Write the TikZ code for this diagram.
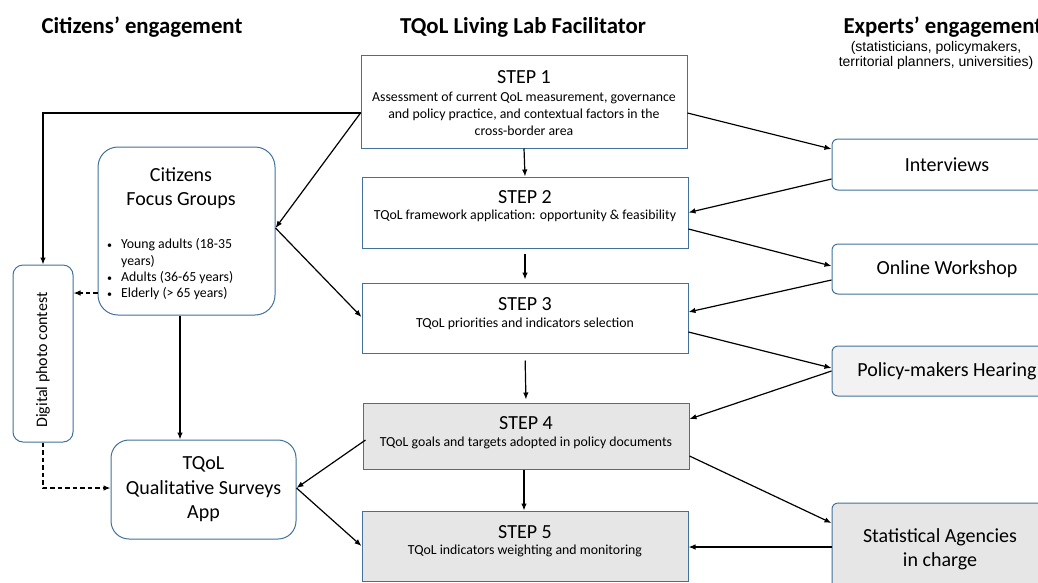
\documentclass[tikz,border=0pt]{standalone}
\usepackage{fontspec}
\setmainfont{Carlito}
\newfontfamily\subfont{Liberation Sans}
\usetikzlibrary{arrows.meta}
\definecolor{boxblue}{RGB}{65,113,156}
\definecolor{grayA}{RGB}{231,230,230}
\definecolor{grayB}{RGB}{242,242,242}
\newcommand{\smbul}{{\fontsize{10}{10}\selectfont •}}
\begin{document}
\begin{tikzpicture}[x=1pt,y=-1pt,
  box/.style={draw=boxblue, line width=1pt, inner sep=0pt, fill=white},
  rbox/.style={box, rounded corners=6pt},
  arr/.style={-{Latex[length=7pt,width=5.5pt]}, line width=1.2pt, black},
  darr/.style={arr, dash pattern=on 4.5pt off 3pt},
  head/.style={font=\bfseries\fontsize{22.8}{27}\selectfont, anchor=base},
  steptitle/.style={font=\fontsize{20}{24}\selectfont},
  stepdesc/.style={font=\fontsize{13.8}{17}\selectfont, align=center},
  big/.style={font=\fontsize{20}{24.5}\selectfont, align=center},
]
\useasboundingbox (0,0) rectangle (1038,582);
\clip (0,0) rectangle (1038,582);

% headers
\node[head] (hc) at (142,33) {Citizens’ engagement};
\node[head] (hf) at (523,33) {TQoL Living Lab Facilitator};
\node[head, anchor=base west] (he) at (840,33) {Experts’ engagement};
\node[font=\subfont\fontsize{14}{15.5}\selectfont, align=center, anchor=north, inner sep=0pt] (hs) at (936,41)
  {(statisticians, policymakers,\\territorial planners, universities)};

% step boxes
\node[box, minimum width=326pt, minimum height=93pt] (s1) at (524,101.5) {};
\node[box, minimum width=326pt, minimum height=71pt] (s2) at (525,212.5) {};
\node[box, minimum width=326pt, minimum height=70pt] (s3) at (525,318) {};
\node[box, fill=grayA, minimum width=326pt, minimum height=66pt] (s4) at (526,436) {};
\node[box, fill=grayA, minimum width=326pt, minimum height=70pt] (s5) at (525,546) {};

\node[steptitle] (s1t) at (524,77) {STEP 1};
\node[stepdesc] (s1d) at (524,114) {Assessment of current QoL measurement, governance\\and policy practice, and contextual factors in the\\cross-border area};
\node[steptitle] (s2t) at (525,197) {STEP 2};
\node[stepdesc] (s2d) at (525,216) {TQoL framework application: opportunity \& feasibility};
\node[steptitle] (s3t) at (525,304) {STEP 3};
\node[stepdesc] (s3d) at (525,324) {TQoL priorities and indicators selection};
\node[steptitle] (s4t) at (526,423) {STEP 4};
\node[stepdesc] (s4d) at (526,443) {TQoL goals and targets adopted in policy documents};
\node[steptitle] (s5t) at (525,532) {STEP 5};
\node[stepdesc] (s5d) at (525,551) {TQoL indicators weighting and monitoring};

% expert boxes
\node[rbox, big, minimum width=230pt, minimum height=51pt] (iv) at (947,164.5) {Interviews};
\node[rbox, big, minimum width=230pt, minimum height=50pt] (ow) at (947,269) {Online Workshop};
\node[rbox, big, fill=grayB, minimum width=230pt, minimum height=50pt] (ph) at (947,371) {Policy-makers Hearing};
\node[rbox, fill=grayA, minimum width=230pt, minimum height=100pt] (sa) at (947,553) {};
\node[big] (sat) at (940,549.5) {Statistical Agencies\\in charge};

% citizens side
\node[box, rounded corners=20pt, minimum width=177pt, minimum height=168pt] (fg) at (186.5,231) {};
\node[big] (fgt) at (181,188) {Citizens\\Focus Groups};
\node[font=\fontsize{13.8}{16.3}\selectfont, anchor=west, inner sep=0pt] (fgl) at (107,270)
  {\begin{tabular}{@{}l@{\hspace{9pt}}l@{}}
   \smbul & Young adults (18-35\\
     & years)\\
   \smbul & Adults (36-65 years)\\
   \smbul & Elderly (> 65 years)
   \end{tabular}};
\node[box, rounded corners=10pt, minimum width=60pt, minimum height=177pt] (dp) at (43,353.5) {};
\node[font=\fontsize{16}{19}\selectfont, rotate=90] (dpt) at (43,360) {Digital photo contest};
\node[box, big, rounded corners=18pt, minimum width=185pt, minimum height=99pt] (app) at (203.5,489.5) {TQoL\\Qualitative Surveys\\App};

% vertical step arrows
\draw[arr] (s1.south) -- (s2.north);
\draw[arr, shorten <=5pt, shorten >=3pt] (s2.south) -- (s3.north);
\draw[arr, shorten <=7pt, shorten >=3pt] (s3.south) -- (s4.north);
\draw[arr] ([xshift=-2pt]s4.south) -- ([xshift=-1pt]s5.north);

% right connectors
\draw[arr] ([yshift=-11.5pt]s1.east) -- ([yshift=15.5pt]iv.west);
\draw[arr] ([yshift=-14.5pt]iv.west) -- (s2.east);
\draw[arr] ([yshift=-16.5pt]s2.east) -- ([yshift=3pt]ow.west);
\draw[arr] ([yshift=-11pt]ow.west) -- ([yshift=6pt]s3.east);
\draw[arr] ([yshift=-14pt]s3.east) -- ([yshift=3pt]ph.west);
\draw[arr] (ph.west) -- ([yshift=17pt]s4.east);
\draw[arr] ([yshift=-20pt]s4.east) -- ([yshift=30pt]sa.west);
\draw[arr] ([yshift=6pt]sa.west) -- ([yshift=-1pt]s5.east);

% left connectors
\draw[arr] ([yshift=-11.5pt]s1.west) -| (dp.north);
\draw[arr] ([yshift=-11.5pt]s1.west) -- ([yshift=3pt]fg.east);
\draw[arr] ([yshift=3pt]fg.east) -- ([yshift=1pt]s3.west);
\draw[darr] ([yshift=-62pt]fg.west) -- ([yshift=-62pt]fg.west -| dp.east);
\draw[arr] ([xshift=-6.5pt]fg.south) -- ([xshift=-6.5pt]fg.south |- app.north);
\draw[darr] (dp.south) |- ([yshift=1.5pt]app.west);
\draw[arr] ([xshift=3pt,yshift=-4pt]s4.west) -- ([yshift=1.5pt]app.east);
\draw[arr] ([yshift=1.5pt]app.east) -- (s5.west);
\end{tikzpicture}
\end{document}
